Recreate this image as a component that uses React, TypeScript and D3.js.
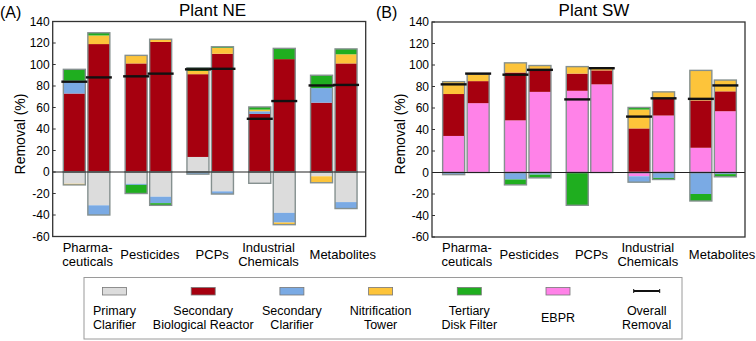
import React from 'react';
import * as d3 from 'd3';

// ---------- DATA ----------
const categories = ["Pharmaceuticals", "Pesticides", "PCPs", "Industrial Chemicals", "Metabolites"];
const categoryLines = [["Pharma-", "ceuticals"], ["Pesticides"], ["PCPs"], ["Industrial", "Chemicals"], ["Metabolites"]];
const stageKeys = ["primary", "ebpr", "reactor", "secClar", "nitrif", "tertiary"];
const stageLabels = [["Primary", "Clarifier"], ["Secondary", "Biological Reactor"], ["Secondary", "Clarifier"], ["Nitrification", "Tower"], ["Tertiary", "Disk Filter"], ["EBPR"], ["Overall", "Removal"]];
const yTicks = [-60, -40, -20, 0, 20, 40, 60, 80, 100, 120, 140];

// order of bars: [Pharma1, Pharma2, Pest1, Pest2, PCP1, PCP2, Ind1, Ind2, Met1, Met2]
const nePrimary = [-11, -31, -11, -23, 14, -18, -10.5, -38, -4, -28];
const neEbpr = [0, 0, 0, 0, 0, 0, 0, 0, 0, 0];
const neReactor = [73, 119, 101, 121, 77, 110, 54, 105, 64.5, 101];
const neSecClar = [12, -9, -1, -6, -2, -2.5, 2.5, -9, 13.5, -6];
const neNitrif = [-1, 8, 7.5, 2.5, 3, 5.5, 1.5, -2, -6, 8.5];
const neTertiary = [10.5, 2.5, -8, -2, 3, 1, 2.5, 10, 12, 5];
const neOverall = [84, 88, 89, 91.5, 95.5, 96, 49.5, 66, 80.5, 81];

const swPrimary = [0, 0, 0, 0, 0, 0, 0, 0, 0, 0];
const swEbpr = [34, 64.5, 48.5, 75, 76, 82, -3.5, 53, 23, 57];
const swReactor = [39, 20.5, 44.5, 21.5, 16, 13, 41, 15.5, 44, 18.5];
const swSecClar = [-2, 0, -6.5, -2, 0, 0, -5.5, -5, -20, -1.5];
const swNitrif = [11.5, 6.5, 9, 3, 6.5, 2, 17.5, 6.5, 28, 10.5];
const swTertiary = [0, 0, -5, -3, -30.5, 0, 2, -1.5, -6.5, -2.5];
const swOverall = [82, 92, 91, 95.5, 68, 97, 52, 69, 68.5, 81];

// ---------- STYLE ----------
const colors: Record<string, string> = {
  primary: "#dcdcdc",
  ebpr: "#ff82e8",
  reactor: "#a6000f",
  secClar: "#7aaae4",
  nitrif: "#fdc43a",
  tertiary: "#1fae1f",
};
const legendColors = [colors.primary, colors.reactor, colors.secClar, colors.nitrif, colors.tertiary, colors.ebpr];
const labelShift = [1, 1.5, 2, -3.5, 9];
const FONT = "'Liberation Sans', Arial, sans-serif";

function buildRows(series: number[][]) {
  return d3.range(10).map((i) => {
    const row: any = { i };
    stageKeys.forEach((k, s) => (row[k] = series[s][i]));
    return row;
  });
}

type PanelProps = {
  left: number; right: number; top: number; bottom: number;
  title: string; tag: string; titleX: number; tagX: number; yTitleX: number;
  series: number[][]; overall: number[];
};

function Panel(p: PanelProps) {
  const y = d3.scaleLinear().domain([-60, 140]).range([p.bottom, p.top]);
  const band = d3.scaleBand<string>().domain(categories).range([p.left + 3, p.right - 1]).paddingInner(0).paddingOuter(0);
  const rows = buildRows(p.series);
  const stacked = d3.stack<any>().keys(stageKeys).offset(d3.stackOffsetDiverging)(rows);
  const bw = 22, gap = 2.5;
  const barX = (i: number) => {
    const c = Math.floor(i / 2);
    const center = (band(categories[c]) as number) + band.bandwidth() / 2;
    return i % 2 === 0 ? center - gap / 2 - bw : center + gap / 2;
  };
  const posTotal = rows.map((r) => d3.sum(stageKeys, (k) => Math.max(0, r[k])));
  const negTotal = rows.map((r) => d3.sum(stageKeys, (k) => Math.min(0, r[k])));
  return (
    <g>
      <text x={p.tagX} y={18} fontFamily={FONT} fontSize={16}>{p.tag}</text>
      <text x={p.titleX} y={15.5} fontFamily={FONT} fontSize={17} textAnchor="middle">{p.title}</text>
      <text transform={`translate(${p.yTitleX},${134}) rotate(-90)`} fontFamily={FONT} fontSize={14} textAnchor="middle">Removal (%)</text>
      {yTicks.map((t) => (
        <g key={t}>
          <line x1={p.left} x2={p.left + 3} y1={y(t)} y2={y(t)} stroke="#333" strokeWidth={1} />
          <text x={p.left - 3} y={y(t) + 4.2} fontFamily={FONT} fontSize={12} textAnchor="end">{t}</text>
        </g>
      ))}
      {stacked.map((layer) =>
        layer.map((d, i) => {
          if (Math.abs(d[1] - d[0]) < 1e-9) return null;
          const y0 = y(Math.max(d[0], d[1]));
          const y1 = y(Math.min(d[0], d[1]));
          return <rect key={layer.key + i} x={barX(i)} y={y0} width={bw} height={y1 - y0} fill={colors[layer.key]} />;
        })
      )}
      {rows.map((r, i) => (
        <g key={"o" + i}>
          {posTotal[i] > 0 && (
            <rect x={barX(i)} y={y(posTotal[i])} width={bw} height={y(0) - y(posTotal[i])} fill="none" stroke="#85908f" strokeWidth={1.4} />
          )}
          {negTotal[i] < 0 && (
            <rect x={barX(i)} y={y(0)} width={bw} height={y(negTotal[i]) - y(0)} fill="none" stroke="#85908f" strokeWidth={1.4} />
          )}
        </g>
      ))}
      <line x1={p.left} x2={p.right} y1={y(0)} y2={y(0)} stroke="#222" strokeWidth={1.2} />
      {p.overall.map((v, i) => (
        <line key={"ov" + i} x1={barX(i) - 2} x2={barX(i) + bw + 2} y1={y(v)} y2={y(v)} stroke="#111" strokeWidth={2.4} />
      ))}
      <rect x={p.left} y={p.top} width={p.right - p.left} height={p.bottom - p.top} fill="none" stroke="#333" strokeWidth={1.3} />
      {categoryLines.map((lines, c) => {
        const cx = (band(categories[c]) as number) + band.bandwidth() / 2 + labelShift[c];
        return (
          <text key={c} fontFamily={FONT} fontSize={13} textAnchor="middle">
            {lines.length === 1 ? (
              <tspan x={cx} y={258.5}>{lines[0]}</tspan>
            ) : (
              lines.map((l, k) => <tspan key={k} x={cx} y={252 + k * 13.5}>{l}</tspan>)
            )}
          </text>
        );
      })}
    </g>
  );
}

function Legend() {
  const xs = d3.range(7).map((k) => 114.5 + k * 88.7);
  return (
    <g>
      <rect x={84} y={277.5} width={598} height={61.5} fill="white" stroke="#9a9a9a" strokeWidth={1} />
      {stageLabels.map((lines, k) => (
        <g key={k}>
          {k < 6 ? (
            <rect x={xs[k] - 12} y={287.5} width={24} height={7.5} fill={legendColors[k]} stroke="#777" strokeWidth={0.8} />
          ) : (
            <g stroke="#111">
              <line x1={xs[k] - 13} x2={xs[k] + 13} y1={291} y2={291} strokeWidth={2} />
              <line x1={xs[k] - 13} x2={xs[k] - 13} y1={289} y2={293} strokeWidth={1} />
              <line x1={xs[k] + 13} x2={xs[k] + 13} y1={289} y2={293} strokeWidth={1} />
            </g>
          )}
          <text fontFamily={FONT} fontSize={12.5} textAnchor="middle">
            {lines.length === 1 ? (
              <tspan x={xs[k]} y={321.5}>{lines[0]}</tspan>
            ) : (
              lines.map((l, j) => <tspan key={j} x={xs[k]} y={315 + j * 13.5}>{l}</tspan>)
            )}
          </text>
        </g>
      ))}
    </g>
  );
}

export default function App() {
  const ne = [nePrimary, neEbpr, neReactor, neSecClar, neNitrif, neTertiary];
  const sw = [swPrimary, swEbpr, swReactor, swSecClar, swNitrif, swTertiary];
  return (
    <svg width={756} height={341} style={{ position: "absolute", left: 0, top: 0, background: "white" }}>
      <Panel left={52.7} right={365.7} top={21.5} bottom={236.5} title="Plant NE" tag="(A)" titleX={212.5} tagX={0} yTitleX={24.5} series={ne} overall={neOverall} />
      <Panel left={432} right={745} top={22} bottom={237} title="Plant SW" tag="(B)" titleX={594} tagX={376} yTitleX={405} series={sw} overall={swOverall} />
      <Legend />
    </svg>
  );
}
